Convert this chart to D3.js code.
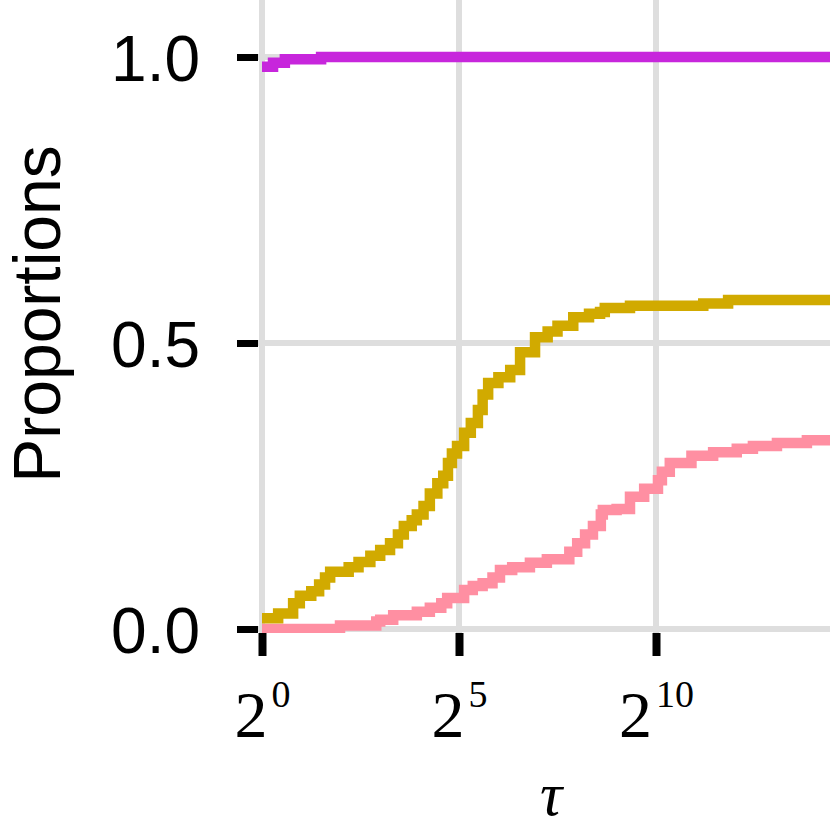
<!DOCTYPE html>
<html>
<head>
<meta charset="utf-8">
<script src="https://cdn.jsdelivr.net/npm/d3@7"></script>
<style>
  html, body { margin: 0; padding: 0; background: #fff; overflow: hidden; }
  svg { display: block; }
</style>
</head>
<body>
<div id="chart"></div>
<script>
// ---------------- DATA ----------------
// x values are log2(tau); y values are proportions (step-after)
const magentaLog2Tau = [0, 0.28, 0.58, 1.5, 14.8];
const magentaProp    = [0.983, 0.99, 0.996, 1.0, 1.0];

const goldLog2Tau = [0, 0.41, 0.79, 0.96, 1.25, 1.45, 1.6, 1.73, 2.2, 2.45, 2.75, 3.0, 3.25, 3.45, 3.6, 3.8,
  3.93, 4.1, 4.26, 4.45, 4.6, 4.72, 4.82, 4.95, 5.13, 5.3, 5.48, 5.6, 5.74, 6.0, 6.3, 6.55, 6.93, 7.25,
  7.5, 7.9, 8.3, 8.58, 8.7, 9.34, 11.2, 11.83, 14.8];
const goldProp = [0.019, 0.027, 0.045, 0.058, 0.066, 0.078, 0.09, 0.10, 0.108, 0.117, 0.128, 0.138, 0.15,
  0.165, 0.18, 0.19, 0.20, 0.215, 0.237, 0.255, 0.268, 0.29, 0.307, 0.32, 0.343, 0.36, 0.383, 0.41, 0.43,
  0.44, 0.453, 0.484, 0.51, 0.52, 0.53, 0.545, 0.551, 0.554, 0.561, 0.565, 0.569, 0.575, 0.575];

const pinkLog2Tau = [0, 1.98, 2.9, 3.0, 3.33, 3.93, 4.26, 4.55, 4.7, 5.13, 5.35, 5.6, 5.85, 6.04, 6.35, 6.8,
  7.23, 7.8, 8.0, 8.2, 8.4, 8.6, 8.65, 9.0, 9.34, 9.7, 10.05, 10.15, 10.35, 10.9, 11.45, 12.05, 12.46,
  13.07, 13.83, 14.8];
const pinkProp = [0.0, 0.006, 0.013, 0.016, 0.024, 0.03, 0.037, 0.045, 0.054, 0.068, 0.075, 0.08, 0.09,
  0.103, 0.108, 0.116, 0.122, 0.135, 0.15, 0.165, 0.18, 0.2, 0.208, 0.21, 0.231, 0.245, 0.26, 0.275, 0.29,
  0.303, 0.309, 0.315, 0.32, 0.325, 0.33, 0.333];

const xTickExponents = [0, 5, 10];
const yTickValues = [0.0, 0.5, 1.0];
const yTickLabels = ["0.0", "0.5", "1.0"];
const xTitle = "τ";
const yTitle = "Proportions";

const seriesNames  = ["pink", "gold", "magenta"];
const seriesColors = ["#FF8FA2", "#D1AA00", "#C726DC"];

// ---------------- LAYOUT ----------------
const W = 830, H = 830;
const panel = { left: 258, right: 846, top: 0, bottom: 633 };

const svg = d3.select("#chart").append("svg")
  .attr("width", W).attr("height", H);

const x = d3.scaleLog().base(2)
  .domain([Math.pow(2, 0), Math.pow(2, 10)])
  .range([262, 656]);
const y = d3.scaleLinear().domain([0, 1]).range([629, 57]);

svg.append("defs").append("clipPath").attr("id", "panelClip")
  .append("rect")
  .attr("x", panel.left).attr("y", panel.top)
  .attr("width", panel.right - panel.left).attr("height", panel.bottom - panel.top);

// grid
const grid = svg.append("g").attr("clip-path", "url(#panelClip)");
grid.selectAll("line.h").data(yTickValues).join("line")
  .attr("x1", panel.left).attr("x2", panel.right)
  .attr("y1", d => y(d)).attr("y2", d => y(d))
  .attr("stroke", "#DEDEDE").attr("stroke-width", 6);
grid.selectAll("line.v").data(xTickExponents).join("line")
  .attr("y1", panel.top).attr("y2", panel.bottom)
  .attr("x1", d => x(Math.pow(2, d))).attr("x2", d => x(Math.pow(2, d)))
  .attr("stroke", "#DEDEDE").attr("stroke-width", 6);

// series
const seriesData = {
  pink: pinkLog2Tau.map((v, i) => ({ t: Math.pow(2, v), p: pinkProp[i] })),
  gold: goldLog2Tau.map((v, i) => ({ t: Math.pow(2, v), p: goldProp[i] })),
  magenta: magentaLog2Tau.map((v, i) => ({ t: Math.pow(2, v), p: magentaProp[i] }))
};

const line = d3.line()
  .x(d => x(d.t)).y(d => y(d.p))
  .curve(d3.curveStepAfter);

const lines = svg.append("g").attr("clip-path", "url(#panelClip)");
seriesNames.forEach((name, i) => {
  lines.append("path")
    .datum(seriesData[name])
    .attr("d", line)
    .attr("fill", "none")
    .attr("stroke", seriesColors[i])
    .attr("stroke-width", 10.5)
    .attr("stroke-linejoin", "miter")
    .attr("stroke-linecap", "butt");
});

// y axis ticks
const yAxis = svg.append("g").attr("transform", `translate(${panel.left},0)`)
  .call(d3.axisLeft(y).tickValues(yTickValues).tickSize(21).tickPadding(37)
    .tickFormat((d, i) => yTickLabels[i]));
yAxis.select(".domain").remove();
yAxis.selectAll(".tick line").attr("stroke", "#000").attr("stroke-width", 7);
yAxis.selectAll(".tick text")
  .attr("font-family", "'Liberation Sans', Arial, Helvetica, sans-serif")
  .attr("font-size", 64).attr("fill", "#000")
  .attr("dy", "0.36em");

// x axis ticks
const xAxis = svg.append("g").attr("transform", `translate(0,${panel.bottom})`)
  .call(d3.axisBottom(x).tickValues(xTickExponents.map(e => Math.pow(2, e))).tickSize(23)
    .tickFormat(() => ""));
xAxis.select(".domain").remove();
xAxis.selectAll(".tick line").attr("stroke", "#000").attr("stroke-width", 8);
xAxis.selectAll(".tick text").remove();
xAxis.selectAll(".tick").each(function (d, i) {
  const t = d3.select(this).append("text")
    .attr("y", 104)
    .attr("text-anchor", "middle")
    .attr("font-family", "'Liberation Serif', 'DejaVu Serif', serif")
    .attr("fill", "#000");
  t.append("tspan").attr("font-size", 66).text("2");
  t.append("tspan").attr("font-size", 38).attr("dy", -30).attr("dx", 4).text(String(xTickExponents[i]));
});

// axis titles
svg.append("text")
  .attr("x", 551).attr("y", 815)
  .attr("text-anchor", "middle")
  .attr("font-family", "'Liberation Serif', 'DejaVu Serif', serif")
  .attr("font-style", "italic")
  .attr("font-size", 62)
  .attr("fill", "#000")
  .text(xTitle);

svg.append("text")
  .attr("transform", "translate(60,314) rotate(-90)")
  .attr("text-anchor", "middle")
  .attr("font-family", "'Liberation Sans', Arial, Helvetica, sans-serif")
  .attr("font-size", 66)
  .attr("fill", "#000")
  .text(yTitle);
</script>
</body>
</html>
